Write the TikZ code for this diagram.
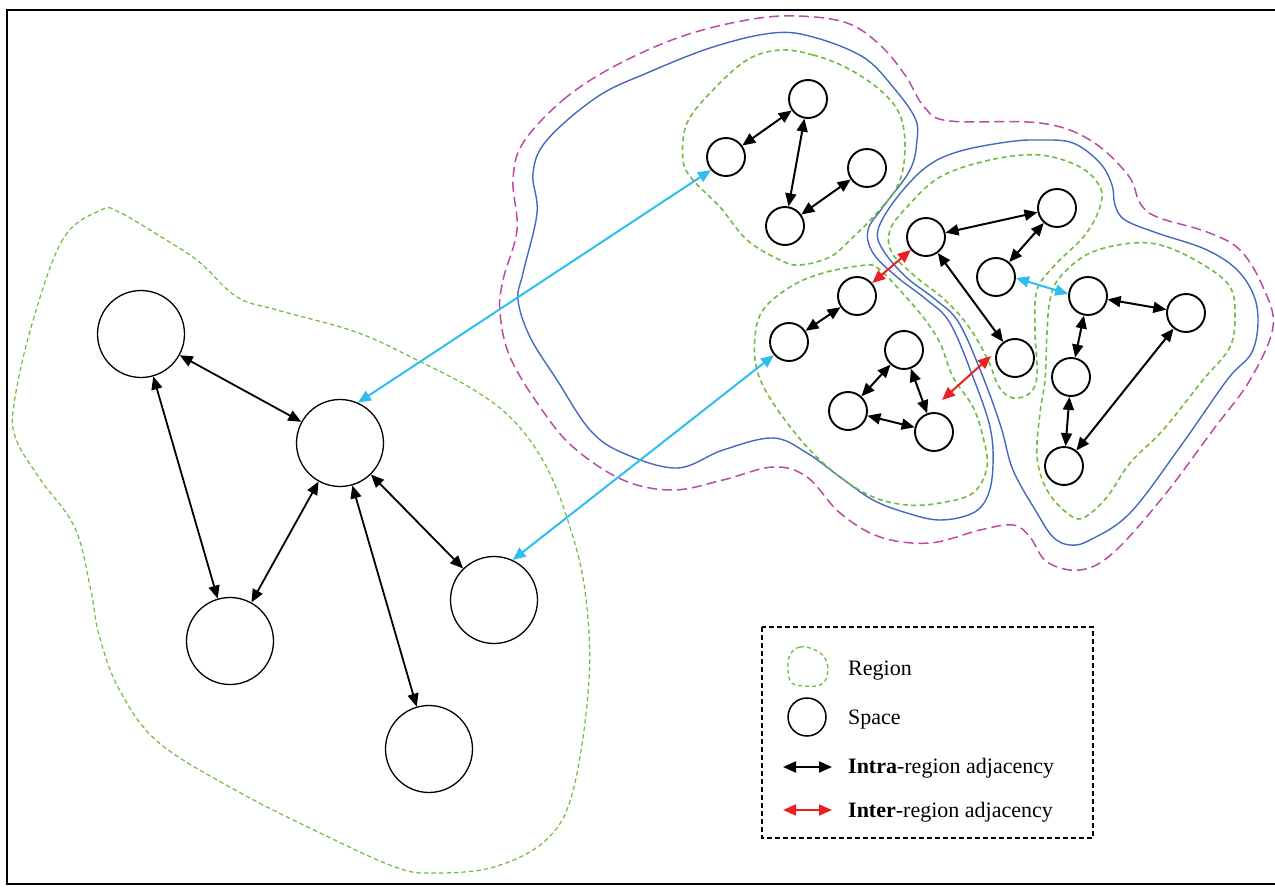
\documentclass[tikz,border=0pt]{standalone}
\usepackage{fontspec}
\setmainfont{Liberation Serif}
\usetikzlibrary{arrows.meta}

\definecolor{regiongreen}{RGB}{112,188,64}
\definecolor{groupblue}{RGB}{68,106,190}
\definecolor{outermag}{RGB}{188,74,162}
\definecolor{linkcyan}{RGB}{45,190,238}
\definecolor{linkred}{RGB}{234,32,36}

\tikzset{
  bigspace/.style={circle, draw=black, line width=1.3pt, minimum size=87pt, inner sep=0pt},
  space/.style={circle, draw=black, line width=1.9pt, minimum size=38pt, inner sep=0pt},
  dbl/.style={{Triangle[length=13pt,width=11pt]}-{Triangle[length=13pt,width=11pt]}},
  intra/.style={draw=black, line width=2pt, dbl},
  inter/.style={draw=linkred, line width=2pt, dbl},
  crosslink/.style={draw=linkcyan, line width=2pt, dbl},
  regionline/.style={draw=regiongreen, line width=1.6pt, dash pattern=on 5pt off 3.5pt},
  bigregion/.style={draw=regiongreen, line width=1.2pt, dash pattern=on 4.5pt off 3pt},
  groupline/.style={draw=groupblue, line width=1.4pt},
  outerline/.style={draw=outermag, line width=1.5pt, dash pattern=on 10pt off 5pt},
  legendtext/.style={anchor=base west, inner sep=0pt, font=\fontsize{22}{26}\selectfont},
}

\begin{document}
\begin{tikzpicture}[x=1pt, y=-1pt]
\useasboundingbox (0,0) rectangle (1275,888);

% frame
\draw[line width=2pt] (1280,10.5) -- (7,10.5) -- (7,884);
\draw[line width=2.6pt] (6,884) -- (1280,884);

% outer group boundary
\draw[outerline] plot[smooth cycle, tension=0.6] coordinates {
  (523,143) (563,100) (613,67) (680,37) (747,20) (797,16) (847,23) (880,45)
  (905,75) (925,108) (950,121) (1040,123) (1090,140) (1128,175) (1140,203)
  (1157,217) (1207,232) (1240,250) (1263,287) (1273,327) (1250,380) (1213,430)
  (1163,497) (1113,553) (1080,570) (1047,562) (1030,537) (1013,525) (980,530)
  (930,543) (880,537) (840,513) (807,477) (773,467) (723,480) (673,490)
  (623,480) (573,447) (540,407) (510,357) (500,313) (503,280) (517,230) (513,180)};

% group boundaries
\draw[groupline] plot[smooth cycle, tension=0.6] coordinates {
  (533,173) (547,140) (597,97) (647,73) (713,47) (773,33) (813,37) (863,57)
  (893,87) (915,118) (917,140) (910,170) (883,207) (868,230) (873,253)
  (897,277) (927,300) (950,323) (973,377) (990,427) (993,465) (988,495)
  (973,513) (940,520) (907,513) (873,500) (840,477) (807,453) (773,438)
  (723,450) (677,468) (623,453) (590,430) (557,380) (530,337) (518,300)
  (523,273) (537,213)};
\draw[groupline] plot[smooth cycle, tension=0.6] coordinates {
  (925,168) (957,152) (1007,142) (1040,140) (1073,143) (1100,163) (1112,185)
  (1115,205) (1125,220) (1157,233) (1207,250) (1240,273) (1257,307) (1253,350)
  (1227,380) (1180,447) (1130,513) (1090,540) (1070,545) (1053,537) (1037,513)
  (1013,470) (1001,427) (983,377) (959,323) (936,300) (906,277) (883,250)
  (878,230) (895,200)};

% regions
\draw[bigregion] plot[smooth cycle, tension=0.6] coordinates {
  (101,210) (63,239) (32,324) (14,404) (16,439) (40,479) (75,528) (91,591)
  (99,635) (119,689) (158,742) (237,791) (316,831) (395,867) (435,873)
  (494,867) (546,840) (573,791) (589,680) (585,591) (569,524) (546,466)
  (514,421) (474,390) (415,359) (356,332) (277,310) (237,297) (198,261)
  (158,235) (119,212)};
\draw[regionline] plot[smooth cycle, tension=0.6] coordinates {
  (780,50) (813,55) (847,68) (880,90) (900,115) (905,150) (898,185) (875,215)
  (850,240) (830,257) (800,265) (780,260) (747,240) (720,207) (693,180)
  (683,160) (687,123) (713,90) (747,60)};
\draw[regionline] plot[smooth cycle, tension=0.6] coordinates {
  (867,265) (823,273) (790,287) (763,310) (755,337) (757,370) (773,403)
  (807,447) (840,477) (873,497) (907,505) (940,503) (973,493) (987,467)
  (983,437) (973,407) (953,377) (940,343) (923,317) (897,287) (880,270)};
\draw[regionline] plot[smooth cycle, tension=0.6] coordinates {
  (1040,155) (990,160) (940,177) (907,207) (890,230) (892,253) (916,277)
  (945,300) (969,327) (988,360) (999,387) (1013,398) (1030,393) (1037,375)
  (1035,330) (1037,290) (1055,265) (1085,235) (1100,207) (1100,187) (1080,167)};
\draw[regionline] plot[smooth cycle, tension=0.6] coordinates {
  (1133,243) (1167,247) (1207,267) (1230,287) (1235,313) (1230,347) (1203,380)
  (1163,430) (1130,463) (1107,497) (1083,518) (1067,513) (1047,490) (1037,457)
  (1040,413) (1045,380) (1047,333) (1050,300) (1060,277) (1090,253)};

% large spaces
\node[bigspace] (L1) at (141,334) {};
\node[bigspace] (L2) at (340,443) {};
\node[bigspace] (L3) at (230,641) {};
\node[bigspace] (L4) at (494,600) {};
\node[bigspace] (L5) at (429,749) {};

% small spaces
\node[space] (T1) at (726,157) {};
\node[space] (T2) at (808,99) {};
\node[space] (T3) at (867,168) {};
\node[space] (T4) at (785,226) {};

\node[space] (M1) at (789,342) {};
\node[space] (M2) at (857,296) {};
\node[space] (M3) at (904,350) {};
\node[space] (M4) at (848,411) {};
\node[space] (M5) at (934,432) {};

\node[space] (R1) at (926,237) {};
\node[space] (R2) at (1057,208) {};
\node[space] (R3) at (996,277) {};
\node[space] (R4) at (1015,358) {};

\node[space] (F1) at (1088,296) {};
\node[space] (F2) at (1186,313) {};
\node[space] (F3) at (1071,377) {};
\node[space] (F4) at (1064,466) {};

% adjacency within regions
\draw[intra, line width=1.8pt] (L1) -- (L2);
\draw[intra, line width=1.8pt] (L1) -- (L3);
\draw[intra, line width=1.8pt] (L2) -- (L3);
\draw[intra, line width=1.8pt] (L2) -- (L4);
\draw[intra, line width=1.8pt] (L2) -- (L5);

\draw[intra] (T1) -- (T2);
\draw[intra] (T2) -- (T4);
\draw[intra] (T3) -- (T4);

\draw[intra] (M1) -- (M2);
\draw[intra] (M3) -- (M4);
\draw[intra] (M3) -- (M5);
\draw[intra] (M4) -- (M5);

\draw[intra] (R1) -- (R2);
\draw[intra] (R2) -- (R3);
\draw[intra] (R1) -- (R4);

\draw[intra] (F1) -- (F2);
\draw[intra] (F1) -- (F3);
\draw[intra] (F3) -- (F4);
\draw[intra] (F2) -- (F4);

% adjacency between regions
\draw[inter] (M2) -- (R1);
\coordinate (mr-a) at (942,400);
\coordinate (mr-b) at (991,356);
\draw[inter] (mr-a) -- (mr-b);

\draw[crosslink] (L2.66) -- (T1.221);
\draw[crosslink] (L4.65) -- (M1.221);
\draw[crosslink] (R3.-3) -- (F1.174);

% legend
\draw[line width=1.2pt, dash pattern=on 5pt off 3pt] (762,627) rectangle (1093,838);
\draw[regionline, line width=1.3pt, dash pattern=on 4pt off 3pt] plot[smooth cycle, tension=0.7] coordinates {
  (790,655) (800,647) (815,650) (826,660) (827,676) (820,685) (805,686) (792,683) (788,670)};
\node[space, line width=1.5pt] (legspace) at (807,717) {};
\coordinate (lga) at (783,767);
\coordinate (lgb) at (832,767);
\draw[intra] (lga) -- (lgb);
\coordinate (lra) at (783,810);
\coordinate (lrb) at (832,810);
\draw[inter] (lra) -- (lrb);

\node[legendtext] (t1) at (848,675) {Region};
\node[legendtext] (t2) at (848,724) {Space};
\node[legendtext] (t3) at (848,773) {\textbf{Intra}-region adjacency};
\node[legendtext] (t4) at (848,817) {\textbf{Inter}-region adjacency};
\end{tikzpicture}
\end{document}
